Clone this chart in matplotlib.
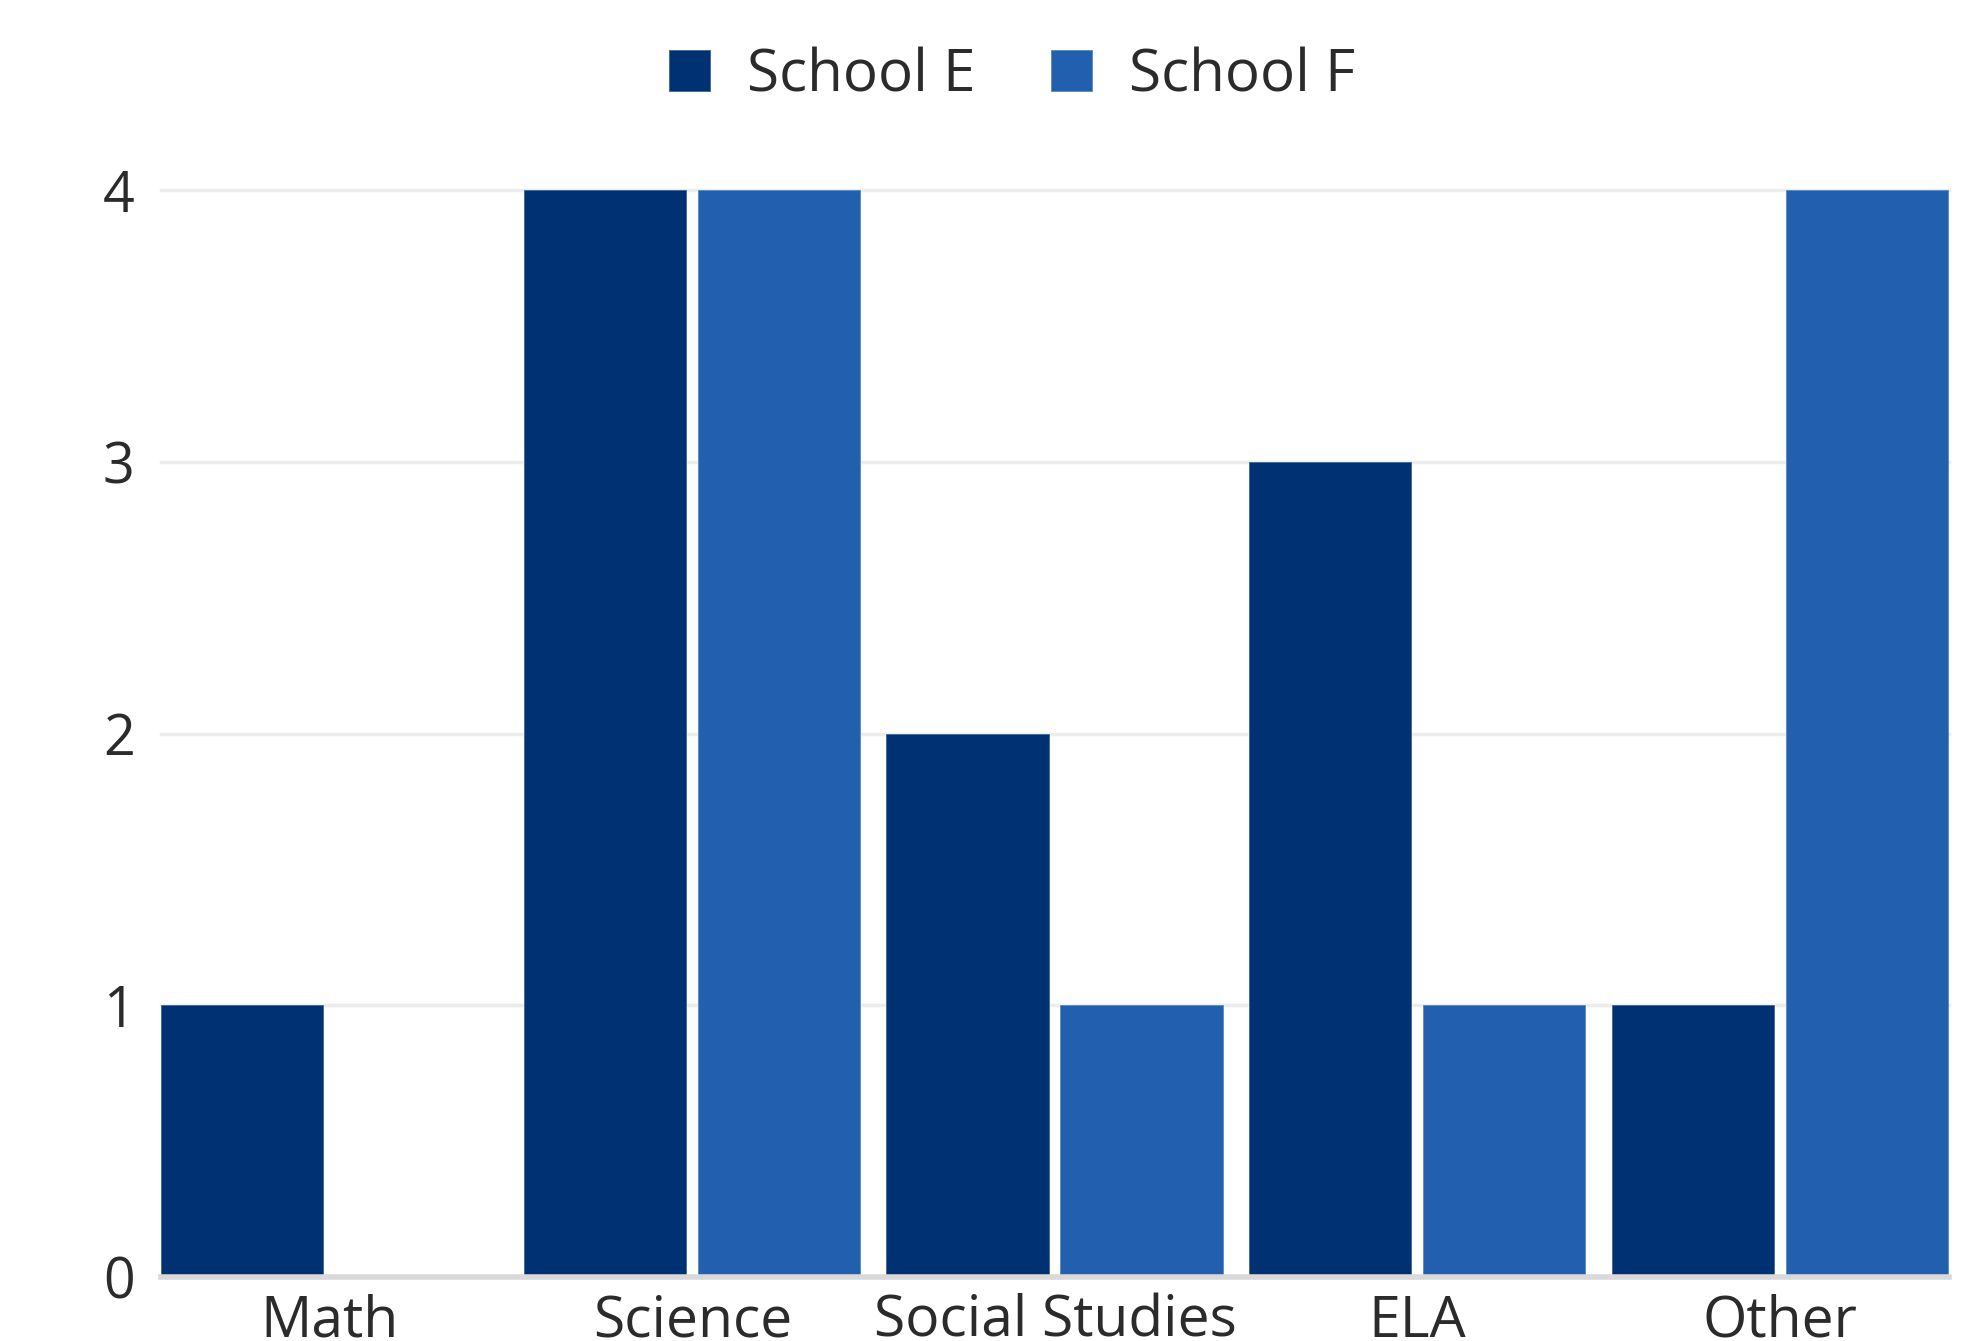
import matplotlib
matplotlib.use("Agg")
import matplotlib.pyplot as plt
import numpy as np

categories = ["Math", "Science", "Social Studies", "ELA", "Other"]
school_e = [1, 4, 2, 3, 1]
school_f = [0, 4, 1, 1, 4]
series_names = ["School E", "School F"]
yticks = [0, 1, 2, 3, 4]

COL_E = "#003172"
COL_F = "#2260AF"
TXT = "#2b2b2b"

plt.rcParams['font.family'] = ['Open Sans', 'DejaVu Sans']

W, H = 1976, 1341
fig = plt.figure(figsize=(W / 100, H / 100), dpi=100)
left, right = 161 / W, 1949 / W
bottom, top = 1 - 1277 / H, 1 - 190 / H
ax = fig.add_axes([left, bottom, right - left, top - bottom])

x = np.arange(len(categories))
bw = 0.45
off = 0.24
ax.bar(x - off, school_e, width=bw, color=COL_E, edgecolor=(1, 1, 1, 0.35),
       linewidth=1.2, label=series_names[0], zorder=3)
ax.bar(x + off, school_f, width=bw, color=COL_F, edgecolor=(1, 1, 1, 0.35),
       linewidth=1.2, label=series_names[1], zorder=3)

ax.set_xlim(-0.465, 4.465)
ax.set_ylim(0, 4)
ax.set_yticks(yticks)
ax.set_yticklabels([str(v) for v in yticks])
ax.set_xticks(x)
ax.set_xticklabels(categories)

for v in yticks[1:]:
    ax.axhline(v, color="#ececec", linewidth=2.5, zorder=1, clip_on=False)
ax.axhline(0, color="#d9d9d9", linewidth=4, zorder=4, clip_on=False)

for s in ax.spines.values():
    s.set_visible(False)
ax.tick_params(axis="both", length=0, colors=TXT)
ax.tick_params(axis="y", pad=19, labelsize=40)
ax.tick_params(axis="x", pad=12, labelsize=41)

fig.legend(loc="center", bbox_to_anchor=(1012 / W, 1 - 76 / H), ncol=2,
           frameon=False, fontsize=42, handlelength=0.72, handleheight=0.72,
           handletextpad=0.62, columnspacing=1.3, labelcolor=TXT)

fig.savefig("out.png", dpi=100)
